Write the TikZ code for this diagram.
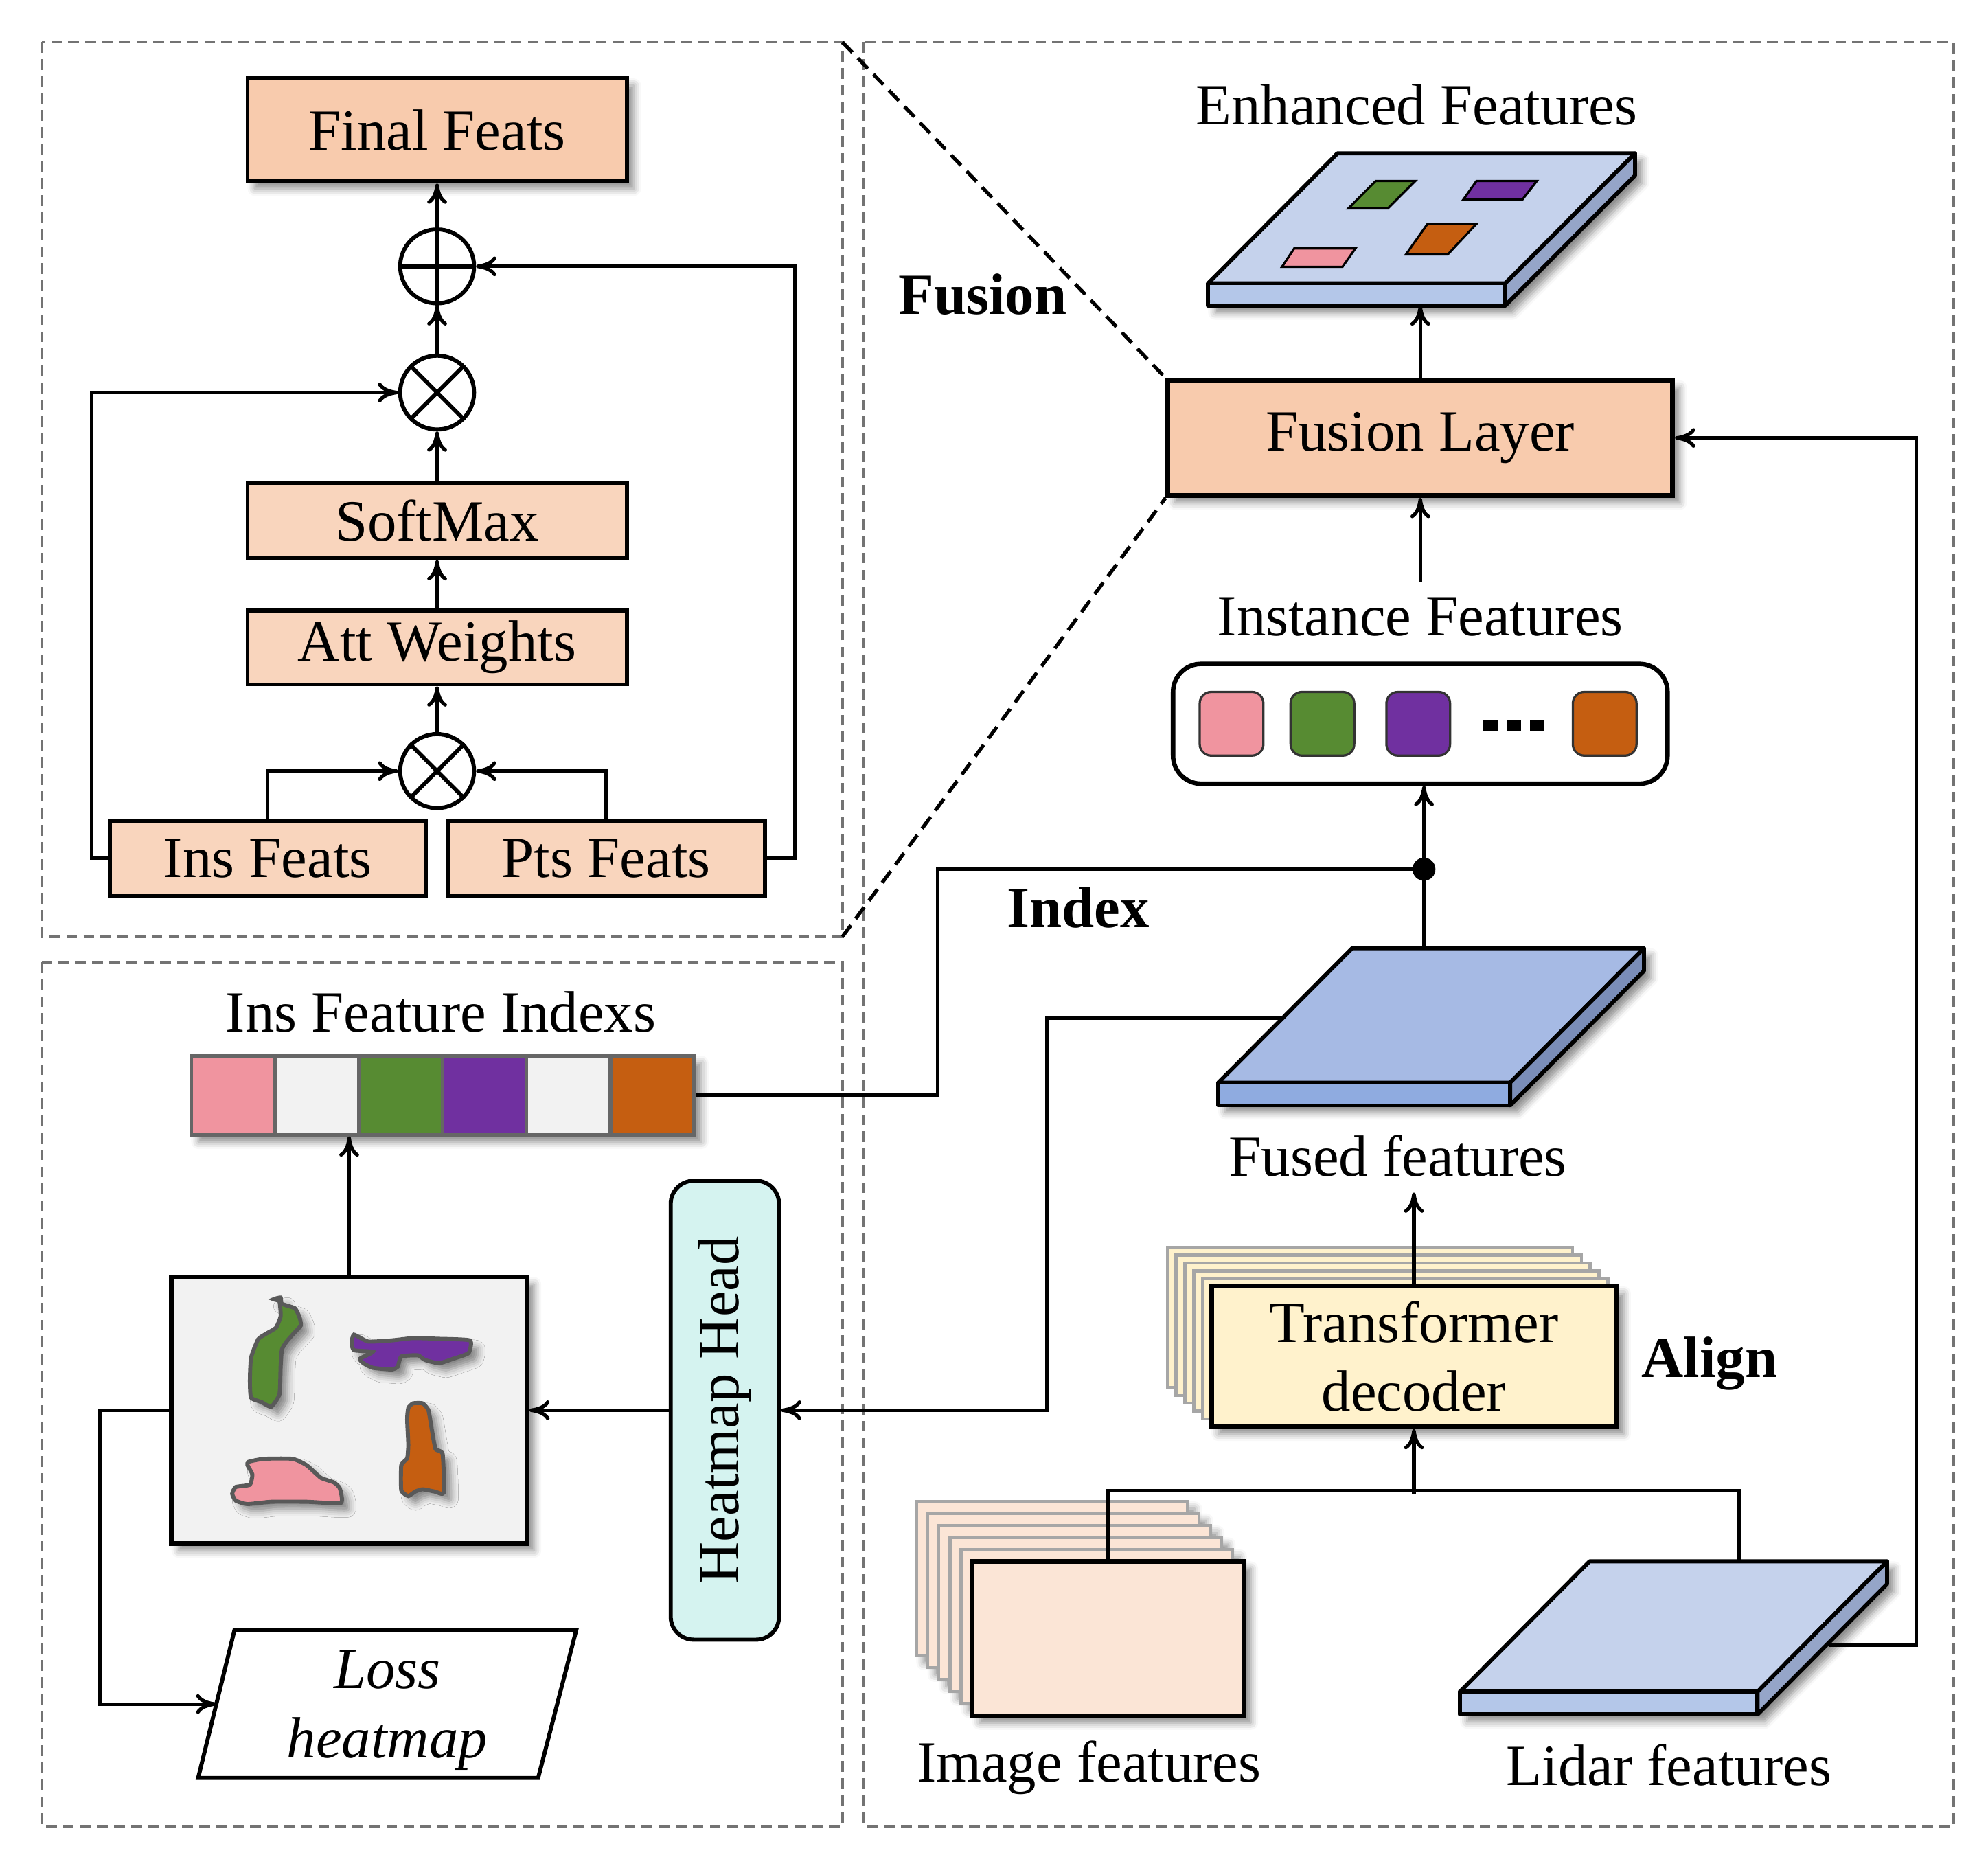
\documentclass[tikz,border=0pt]{standalone}
\usepackage{fontspec}
\setmainfont{Liberation Serif}
\usepackage{tikz}
\usetikzlibrary{positioning,arrows.meta,calc,shadows.blur}

\definecolor{peach}{HTML}{F8CBAD}
\definecolor{peachlt}{HTML}{F9D5BD}
\definecolor{paleyel}{HTML}{FFF2CC}
\definecolor{imgpeach}{HTML}{FBE5D6}
\definecolor{mint}{HTML}{D5F3F0}
\definecolor{pinkc}{HTML}{F0949F}
\definecolor{greenc}{HTML}{578B32}
\definecolor{purplec}{HTML}{7030A0}
\definecolor{orangec}{HTML}{C55E11}
\definecolor{lightgr}{HTML}{F2F2F2}
\definecolor{enhtop}{HTML}{C5D2EC}
\definecolor{enhfront}{HTML}{B4C7E9}
\definecolor{enhside}{HTML}{95A5C8}
\definecolor{fusetop}{HTML}{A6BAE4}
\definecolor{fusefront}{HTML}{8FABE0}
\definecolor{fuseside}{HTML}{7A8DB8}

\tikzset{
  panel/.style={draw=black!55, line width=0.65pt, dash pattern=on 2.4pt off 1.4pt},
  zoomline/.style={draw=black, line width=0.8pt, dash pattern=on 3.2pt off 1.8pt},
  shadowed/.style={blur shadow={shadow xshift=1.6pt, shadow yshift=-1.6pt, shadow blur radius=1.6pt, shadow opacity=45}},
  featbox/.style={draw=black, line width=0.9pt, fill=peachlt, inner sep=0pt},
  opcirc/.style={circle, draw=black, line width=0.9pt, minimum size=5.8mm, inner sep=0pt},
  wire/.style={line width=0.8pt},
  conn/.style={wire, -{To[length=4.5pt,width=4.4pt]}},
  token/.style={draw=black!80, line width=0.5pt, rounded corners=0.9mm, minimum width=5mm, minimum height=5mm, inner sep=0pt},
  cellbox/.style={draw=black!60, line width=0.8pt, minimum width=6.58mm, minimum height=6.2mm, inner sep=0pt},
  stackbox/.style={draw=black!35, line width=0.7pt, inner sep=0pt},
  blob/.style={draw=black!65, line width=0.9pt, shadowed},
  boldlbl/.style={font=\fontsize{13}{15.4}\selectfont\bfseries},
  slabline/.style={draw=black, line width=0.9pt, line join=round}
}

\begin{document}
\begin{tikzpicture}[x=0.1mm,y=-0.1mm,font=\fontsize{13}{15.4}\selectfont]
\useasboundingbox (0,0) rectangle (1560,1463.6);

% dashed panels
\draw[panel] (33,33) rectangle (661,735);
\draw[panel] (33,755) rectangle (661,1433);
\draw[panel] (678,33) rectangle (1533,1433);

% attention block
\node[featbox,fill=peach,shadowed,minimum width=29.75mm,minimum height=8.1mm] (final) at (343,102) {Final Feats};
\node[opcirc] (add) at (343,209) {};
\node[opcirc] (mul) at (343,308) {};
\node[featbox,minimum width=29.75mm,minimum height=5.9mm] (soft) at (343,408.5) {SoftMax};
\node[featbox,minimum width=29.75mm,minimum height=5.8mm] (att) at (343,508) {Att Weights};
\node[opcirc] (dot) at (343,605) {};
\node[featbox,minimum width=24.8mm,minimum height=5.9mm] (insf) at (210,673.5) {Ins Feats};
\node[featbox,minimum width=24.9mm,minimum height=5.9mm,right=1.4mm of insf] (ptsf) {Pts Feats};
\draw[line width=0.9pt] (add.north) -- (add.south) (add.west) -- (add.east);
\draw[line width=0.9pt] (mul.north west) -- (mul.south east) (mul.north east) -- (mul.south west);
\draw[line width=0.9pt] (dot.north west) -- (dot.south east) (dot.north east) -- (dot.south west);
\draw[conn] (add) -- (final);
\draw[conn] (mul) -- (add);
\draw[conn] (soft) -- (mul);
\draw[conn] (att) -- (soft);
\draw[conn] (dot) -- (att);
\draw[conn] (insf.north) |- (dot);
\draw[conn] (ptsf.north) |- (dot);
\draw[conn] (insf.west) -- ++(-12.3,0) |- (mul);
\draw[conn] (ptsf.east) -- ++(22,0) |- (add);

% heatmap branch
\node (idxlbl) at (346,794) {Ins Feature Indexs};
\node[cellbox,shadowed,minimum width=39.48mm] (bar) at (347.4,859.3) {};
\foreach \c [count=\i] in {pinkc,lightgr,greenc,purplec,lightgr,orangec}
  \node[cellbox,fill=\c] (cell\i) at ({150+65.8*(\i-0.5)},859.3) {};
\node[draw=black,line width=1.1pt,fill=lightgr,shadowed,minimum width=27.9mm,minimum height=20.9mm] (heat) at (274,1106.5) {};
\filldraw[blob,fill=greenc] plot[smooth cycle,tension=0.3] coordinates {(214.7,1019.4) (220.2,1018.1) (221.2,1023) (231.4,1026.5) (235.1,1033.7) (236,1040) (230.4,1046.3) (224.9,1052.6) (221.2,1058.9) (220.2,1072.3) (219.3,1093.9) (212.8,1103.8) (205.4,1100.2) (197,1096.6) (196.1,1083.1) (197,1065.2) (202.6,1050.8) (209.1,1046.3) (216.5,1041.8) (220.2,1032.8) (219.3,1021.2)};
\filldraw[blob,fill=purplec] plot[smooth cycle,tension=0.3] coordinates {(277.8,1047.2) (288.9,1052.6) (307.4,1051.7) (324.1,1049.9) (342.7,1050.4) (368.7,1051.7) (367.7,1061.6) (355.7,1066.1) (344.5,1069.6) (333.4,1067) (327.9,1063.4) (314.9,1064.3) (312.1,1072.3) (307.4,1074.5) (292.6,1073.2) (285.2,1069.6) (282.4,1066.1) (292.6,1060.7) (277.8,1059.4) (275.9,1053.5)};
\filldraw[blob,fill=orangec] plot[smooth cycle,tension=0.3] coordinates {(324.1,1101.1) (331.6,1101.1) (336.2,1106.5) (339,1122.6) (341.8,1137) (347.3,1140.6) (348.3,1171.1) (340.8,1170.2) (331.6,1168.5) (326,1170.2) (320.4,1173.8) (314.9,1169.3) (314.9,1149.6) (319.5,1144.2) (320.4,1133.4) (319.5,1113.7) (320.4,1104.7)};
\filldraw[blob,fill=pinkc] plot[smooth cycle,tension=0.3] coordinates {(195.2,1146.9) (207.2,1144.6) (229.5,1144.6) (240.6,1149.6) (251.8,1159.5) (262,1163.1) (266.6,1167.6) (267.5,1179.2) (240.6,1178.3) (212.8,1178.3) (194.2,1180.1) (185,1177.4) (182.2,1172) (185,1166.7) (196.1,1164.9) (198,1156.8) (194.2,1149.6)};
\draw[line width=0.9pt,fill=white] (184,1279) -- (452.2,1279) -- (422.3,1395) -- (155.5,1395) -- cycle;
\coordinate (lossleft) at (169.75,1337);
\node[font=\fontsize{13}{15.4}\selectfont\itshape,align=center] (loss) at (303.8,1342) {Loss\\heatmap};
\node[draw=black,line width=0.9pt,fill=mint,rounded corners=1.8mm,rotate=90,minimum width=36mm,minimum height=8.5mm] (hhead) at (568.8,1106.5) {Heatmap Head};
\draw[conn] (heat.north) -- (heat.north |- bar.south);
\draw[conn] (hhead) -- (heat);
\draw[conn] (heat.west) -- ++(-54.1,0) |- (lossleft);

% feature slabs
\foreach \n/\ax/\bx/\cx/\dx/\ty/\fy/\t/\ctop/\cfront/\cside in {%
    enh/1049.5/1283/1181.2/948/120.3/222.3/17.4/enhtop/enhfront/enhside,
    fus/1061/1290/1185/956/744/849.5/17.8/fusetop/fusefront/fuseside,
    lid/1247.4/1480.8/1379.1/1145.6/1225/1327.4/17.8/enhtop/enhfront/enhside}{
  \coordinate (\n a) at (\ax,\ty);
  \coordinate (\n b) at (\bx,\ty);
  \coordinate (\n c) at (\cx,\fy);
  \coordinate (\n d) at (\dx,\fy);
  \fill[white,shadowed] (\n a) -- (\n b) -- ($(\n b)+(0,\t)$) -- ($(\n c)+(0,\t)$) -- ($(\n d)+(0,\t)$) -- (\n d) -- cycle;
  \filldraw[slabline,fill=\ctop] (\n a) -- (\n b) -- (\n c) -- (\n d) -- cycle;
  \filldraw[slabline,fill=\cfront] (\n d) -- (\n c) -- ++(0,\t) -- ($(\n d)+(0,\t)$) -- cycle;
  \filldraw[slabline,fill=\cside] (\n c) -- (\n b) -- ++(0,\t) -- ($(\n c)+(0,\t)$) -- cycle;
}
\filldraw[line width=0.5pt,fill=greenc] (1079.5,142) -- (1110.6,142) -- (1089,163.6) -- (1058,163.6) -- cycle;
\filldraw[line width=0.5pt,fill=purplec] (1158.6,142) -- (1206,142) -- (1194.8,156.4) -- (1148.4,156.4) -- cycle;
\filldraw[line width=0.5pt,fill=pinkc] (1015.6,194.9) -- (1063.6,194.9) -- (1053.5,209.3) -- (1006,209.3) -- cycle;
\filldraw[line width=0.5pt,fill=orangec] (1120.2,175.6) -- (1158.6,175.6) -- (1136,199.7) -- (1103.2,199.7) -- cycle;
\coordinate (enhbot) at (1114.5,239.7);
\coordinate (fustop) at (1117.4,744);
\coordinate (fusleft) at (1006.3,798.8);
\coordinate (lidtop) at (1364.4,1225);
\coordinate (lidside) at (1435,1290.8);

% fusion side
\node (enhlbl) at (1111.7,82) {Enhanced Features};
\node[featbox,fill=peach,line width=1.1pt,shadowed,minimum width=39.6mm,minimum height=9.04mm] (fusl) at (1114.5,343.6) {Fusion Layer};
\node (inslbl) at (1114.5,484) {Instance Features};
\node[draw=black,line width=1pt,fill=white,rounded corners=2.2mm,minimum width=38.8mm,minimum height=9.4mm] (insbox) at (1114.5,567.9) {};
\foreach \x/\c [count=\i] in {966.4/pinkc,1037.7/greenc,1112.9/purplec,1259.2/orangec}
  \node[token,fill=\c] (tok\i) at (\x,567.9) {};
\foreach \x in {1169.8,1188,1206.1}
  \fill (\x-5.7,565.4) rectangle (\x+5.7,574.1);
\coordinate (junc) at (1117.4,682);
\fill (junc) circle (0.9mm);
\node[boldlbl] (fusiontxt) at (771,231) {Fusion};
\node[boldlbl] (indextxt) at (846,712) {Index};
\node (fusedlbl) at (1097,907) {Fused features};

% align side
\foreach \k in {5,4,3,2,1}
  \node[stackbox,fill=paleyel,minimum width=31.8mm,minimum height=11mm] at ({1109.5-6.9*\k},{1064.3-6.1*\k}) {};
\node[draw=black,line width=1.1pt,fill=paleyel,shadowed,align=center,minimum width=31.8mm,minimum height=11mm] (trans) at (1109.5,1064.3) {Transformer\\decoder};
\node[boldlbl] (aligntxt) at (1341.5,1070) {Align};
\foreach \k in {5,4,3,2,1}
  \node[stackbox,fill=imgpeach,shadowed,minimum width=21.3mm,minimum height=12.1mm] at ({869.5-8.8*\k},{1285.5-9.4*\k}) {};
\node[draw=black,line width=1pt,fill=imgpeach,shadowed,minimum width=21.3mm,minimum height=12.1mm] (imgf) at (869.5,1285.5) {};
\node (imglbl) at (854.5,1387) {Image features};
\node (lidlbl) at (1309.6,1385) {Lidar features};
\coordinate (tjunc) at (1109.5,1172);

% connectors
\draw[zoomline] (661,33) -- (fusl.north west);
\draw[zoomline] (661,735) -- (fusl.south west);
\draw[conn] (fusl) -- (enhbot);
\draw[conn] (inslbl) -- (fusl);
\draw[conn] (junc) -- (junc |- insbox.south);
\draw[wire] (fustop) -- (junc);
\draw[wire] (junc) -- ++(-381.6,0) |- (bar.east);
\draw[conn] (fusleft) -- ++(-184.6,0) |- (hhead);
\draw[conn] (trans.north) -- (trans.north |- fusedlbl.south);
\draw[wire] (imgf.north) -- ++(0,-53.5) -| (lidtop);
\draw[conn] (tjunc) -- (trans);
\draw[conn] (lidside) -- ++(68.5,0) |- (fusl);
\end{tikzpicture}
\end{document}
